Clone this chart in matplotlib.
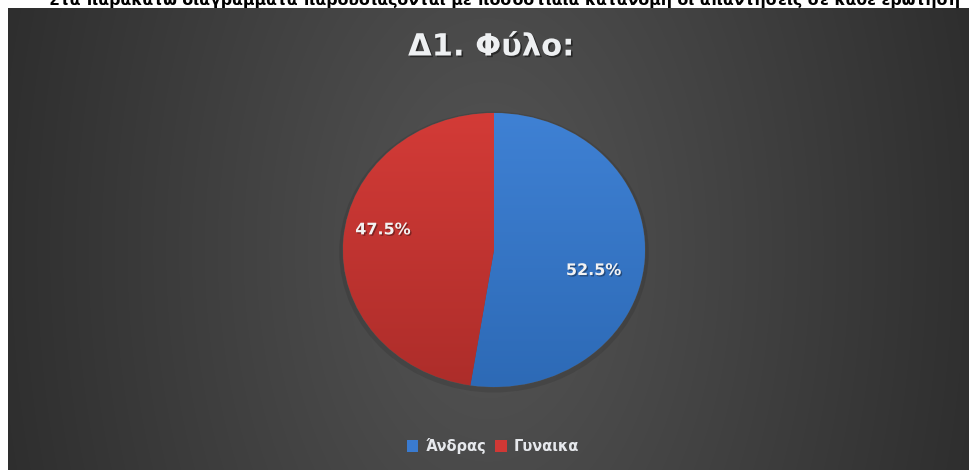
import numpy as np
import matplotlib
matplotlib.use("Agg")
import matplotlib.pyplot as plt
import matplotlib.patheffects as pe
from matplotlib.patches import Patch

# Survey question D1: respondent gender
title = "Δ1. Φύλο:"
categories = ["Άνδρας", "Γυναικα"]
shares = [52.5, 47.5]
colors_top = ["#3f81d4", "#d33b37"]
colors_bottom = ["#2d6ab6", "#ad2d2a"]
legend_colors = ["#3a7bd0", "#d03835"]
header_line = "Στα παρακάτω διαγράμματα παρουσιάζονται με ποσοστιαία κατανομή οι απαντήσεις σε κάθε ερώτηση"

W, H, DPI = 970, 470, 100
fig = plt.figure(figsize=(W / DPI, H / DPI), dpi=DPI)
fig.patch.set_facecolor("white")


def px_axes(x0, y0_top, w, h):
    """Axes placed by pixel box measured from the top-left corner."""
    return fig.add_axes([x0 / W, (H - y0_top - h) / H, w / W, h / H])


# --- dark panel with a soft radial gradient ---
panel = px_axes(8, 8, W - 8, H - 8)
pw, ph = W - 8, H - 8
yy, xx = np.mgrid[0:ph, 0:pw]
dx = (xx - (488 - 8)) / 580.0
dy = (yy - (250 - 8)) / 950.0
t = np.clip(np.sqrt(dx ** 2 + dy ** 2), 0, 1)
c_mid = np.array([0x55, 0x55, 0x55]) / 255
c_edge = np.array([0x28, 0x28, 0x28]) / 255
img = c_mid[None, None, :] * (1 - t[..., None]) + c_edge[None, None, :] * t[..., None]
panel.imshow(img, aspect="auto", interpolation="bilinear")
panel.set_axis_off()

# line of document text running above the panel (only its lower part shows)
fig.text(505 / W, 1 - 5 / H, header_line, ha="center", va="baseline",
         fontsize=11.3, fontweight="bold", color="black")

# --- pie (slightly stretched horizontally) ---
cx, cy, rx, ry = 494, 250, 151, 137
ax = px_axes(cx - rx, cy - ry, 2 * rx, 2 * ry)
ax.set_facecolor("none")

# soft shadow under the pie
ax.pie([1], radius=1.025, center=(0.0, -0.015), colors=["#000000"],
       wedgeprops=dict(alpha=0.10, linewidth=0))

wedges, texts, autotexts = ax.pie(
    shares, startangle=90, counterclock=False,
    colors=legend_colors, autopct="%1.1f%%", pctdistance=0.7,
    wedgeprops=dict(linewidth=0.6, edgecolor="#505050"),
    textprops=dict(color="#f2f2f2", fontsize=11.5, fontweight="bold"))

# vertical gradient fill clipped to each wedge
grad = np.linspace(0, 1, 256)[:, None]
for w, ctop, cbot in zip(wedges, colors_top, colors_bottom):
    c1 = np.array(matplotlib.colors.to_rgb(ctop))
    c2 = np.array(matplotlib.colors.to_rgb(cbot))
    fill = c1[None, None, :] * (1 - grad[..., None]) + c2[None, None, :] * grad[..., None]
    fill = np.repeat(fill, 2, axis=1)
    im = ax.imshow(fill, extent=(-1, 1, -1, 1), aspect="auto", zorder=w.get_zorder() + 0.1)
    im.set_clip_path(w)

for txt in autotexts:
    txt.set_zorder(5)
    txt.set_path_effects([pe.withSimplePatchShadow(offset=(1, -1), shadow_rgbFace="black", alpha=0.35)])
# percentage labels placed where the chart tool puts them
autotexts[0].set_position((0.66, -0.15))
autotexts[1].set_position((-0.735, 0.147))

ax.set_aspect("auto")
ax.set_xlim(-1, 1)
ax.set_ylim(-1, 1)
ax.set_axis_off()

# --- title ---
fig.text(491 / W, 1 - 47 / H, title, ha="center", va="center",
         fontsize=22, fontweight="bold", color="#eef0f2",
         path_effects=[pe.withSimplePatchShadow(offset=(1.2, -1.2), shadow_rgbFace="black", alpha=0.45)])

# --- legend ---
handles = [Patch(facecolor=c, edgecolor="none") for c in legend_colors]
leg = fig.legend(handles, categories, loc="center", bbox_to_anchor=(493 / W, 1 - 446 / H),
                 ncol=2, frameon=False, handlelength=0.8, handleheight=0.8,
                 handletextpad=0.5, columnspacing=0.6,
                 prop=dict(size=10.5, weight="bold"))
for t_ in leg.get_texts():
    t_.set_color("#e6e8ec")

fig.savefig("out.png", dpi=DPI, facecolor=fig.get_facecolor())
